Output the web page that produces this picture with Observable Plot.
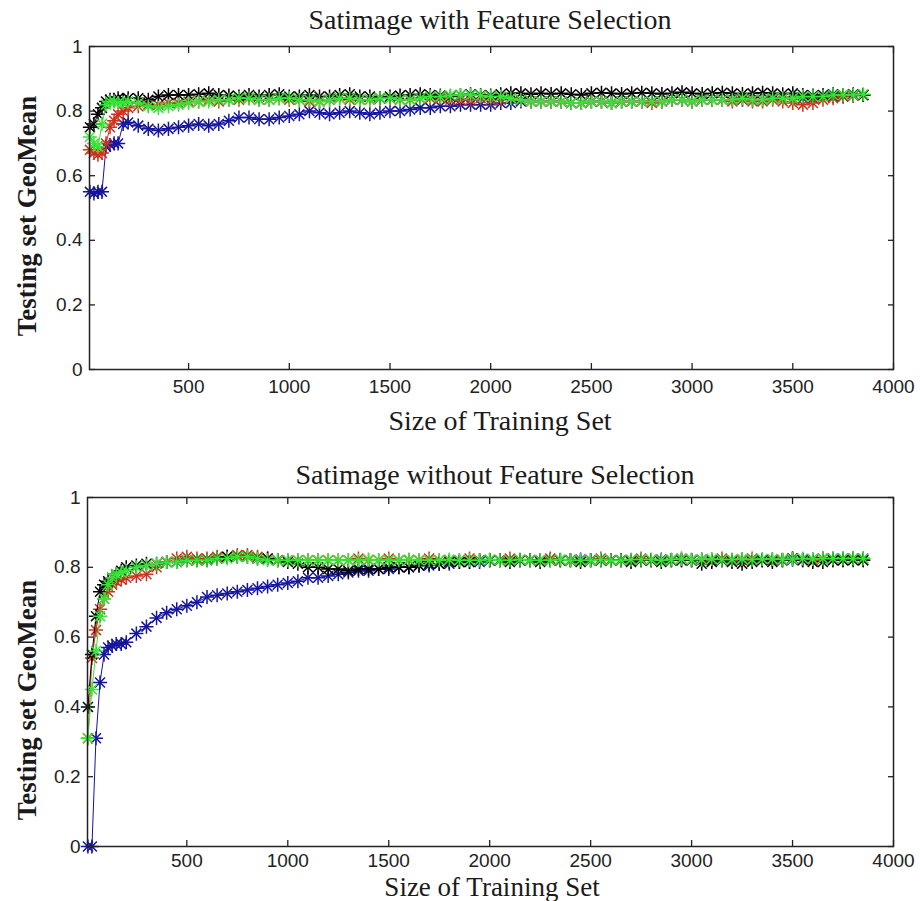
<!DOCTYPE html>
<html><head><meta charset="utf-8">
<script src="https://cdn.jsdelivr.net/npm/d3@7"></script>
<script src="https://cdn.jsdelivr.net/npm/@observablehq/plot@0.6"></script>
<style>
body{margin:0;background:#fff;}
#wrap{position:relative;width:920px;height:901px;background:#fff;overflow:hidden;}
.p{position:absolute;left:0;}
.t{position:absolute;font-family:"Liberation Serif","Times New Roman",serif;color:#1a1a1a;white-space:nowrap;line-height:1;transform:translate(-50%,-50%);}
.yl{font-weight:bold;transform:translate(-50%,-50%) rotate(-90deg);}
</style></head><body>
<div id="wrap">
  <div class="p" id="p1" style="top:0px"></div>
  <div class="p" id="p2" style="top:450px"></div>
  <div class="t" style="left:490px;top:20px;font-size:28px">Satimage with Feature Selection</div>
  <div class="t" style="left:500px;top:421px;font-size:28px">Size of Training Set</div>
  <div class="t yl" style="left:27px;top:216px;font-size:27px">Testing set GeoMean</div>
  <div class="t" style="left:495px;top:475px;font-size:28px">Satimage without Feature Selection</div>
  <div class="t" style="left:492px;top:887px;font-size:27px">Size of Training Set</div>
  <div class="t yl" style="left:27px;top:700px;font-size:27px">Testing set GeoMean</div>
</div>
<script>
const xs = [10,30,50,70,90,110,130,150,175,200,
  250,300,350,400,450,500,550,600,650,700,
  750,800,850,900,950,1000,1050,1100,1150,1200,
  1250,1300,1350,1400,1450,1500,1550,1600,1650,1700,
  1750,1800,1850,1900,1950,2000,2050,2100,2150,2200,
  2250,2300,2350,2400,2450,2500,2550,2600,2650,2700,
  2750,2800,2850,2900,2950,3000,3050,3100,3150,3200,
  3250,3300,3350,3400,3450,3500,3550,3600,3650,3700,
  3750,3800,3850];

const xTicks = [500,1000,1500,2000,2500,3000,3500,4000];
const xTickLabels = ["500","1000","1500","2000","2500","3000","3500","4000"];
const yTicks = [0,0.2,0.4,0.6,0.8,1];
const yTickLabels = ["0","0.2","0.4","0.6","0.8","1"];

const seriesNames = ["blue","red","black","green"];
const seriesColors = ["#1414a0","#d0301c","#000000","#36e636"];

// Satimage with Feature Selection
const withBlue = [0.55,0.545,0.55,0.55,0.69,0.695,0.70,0.70,0.76,0.765,
  0.755,0.745,0.74,0.745,0.75,0.755,0.76,0.755,0.76,0.77,
  0.78,0.78,0.775,0.775,0.78,0.785,0.79,0.80,0.795,0.79,
  0.795,0.80,0.795,0.79,0.795,0.80,0.80,0.805,0.81,0.81,
  0.815,0.815,0.82,0.82,0.82,0.82,0.825,0.825,0.83,0.83,
  0.83,0.83,0.83,0.825,0.825,0.83,0.83,0.825,0.83,0.83,
  0.83,0.83,0.83,0.835,0.835,0.83,0.835,0.835,0.835,0.835,
  0.835,0.835,0.835,0.84,0.84,0.84,0.84,0.84,0.845,0.845,
  0.845,0.848,0.85];
const withRed = [0.68,0.67,0.665,0.67,0.70,0.75,0.77,0.79,0.80,0.81,
  0.815,0.82,0.82,0.825,0.825,0.83,0.83,0.835,0.83,0.835,
  0.835,0.84,0.835,0.835,0.84,0.835,0.835,0.83,0.83,0.835,
  0.84,0.835,0.835,0.835,0.84,0.84,0.835,0.835,0.84,0.84,
  0.84,0.835,0.835,0.835,0.84,0.835,0.835,0.84,0.835,0.83,
  0.83,0.83,0.83,0.825,0.825,0.83,0.83,0.825,0.83,0.83,
  0.83,0.825,0.83,0.835,0.835,0.83,0.835,0.835,0.835,0.83,
  0.835,0.83,0.83,0.835,0.83,0.825,0.82,0.825,0.835,0.84,
  0.845,0.848,0.85];
const withBlack = [0.75,0.76,0.79,0.81,0.83,0.835,0.835,0.84,0.835,0.84,
  0.84,0.835,0.845,0.85,0.85,0.85,0.852,0.855,0.85,0.848,
  0.845,0.85,0.845,0.85,0.852,0.845,0.845,0.85,0.845,0.845,
  0.85,0.852,0.845,0.845,0.84,0.845,0.848,0.85,0.852,0.85,
  0.848,0.845,0.85,0.852,0.85,0.848,0.852,0.855,0.855,0.852,
  0.855,0.853,0.855,0.852,0.85,0.855,0.857,0.855,0.853,0.855,
  0.857,0.855,0.853,0.855,0.858,0.855,0.853,0.855,0.857,0.855,
  0.853,0.855,0.857,0.855,0.852,0.855,0.85,0.848,0.85,0.852,
  0.85,0.852,0.85];
const withGreen = [0.72,0.70,0.69,0.76,0.82,0.83,0.83,0.825,0.825,0.83,
  0.825,0.815,0.81,0.815,0.82,0.825,0.83,0.83,0.835,0.835,
  0.84,0.84,0.835,0.835,0.84,0.84,0.835,0.835,0.83,0.835,
  0.84,0.84,0.835,0.835,0.84,0.84,0.835,0.835,0.84,0.845,
  0.845,0.848,0.85,0.85,0.848,0.845,0.845,0.84,0.835,0.83,
  0.83,0.83,0.83,0.825,0.825,0.83,0.83,0.825,0.83,0.83,
  0.83,0.83,0.83,0.835,0.835,0.83,0.835,0.835,0.835,0.835,
  0.84,0.835,0.835,0.84,0.84,0.84,0.845,0.845,0.845,0.85,
  0.85,0.85,0.852];

// Satimage without Feature Selection
const woBlue = [0.0,0.0,0.31,0.47,0.55,0.57,0.575,0.58,0.58,0.585,
  0.61,0.63,0.655,0.67,0.68,0.69,0.70,0.715,0.72,0.725,
  0.73,0.735,0.74,0.745,0.75,0.755,0.76,0.77,0.77,0.775,
  0.78,0.785,0.79,0.79,0.795,0.795,0.80,0.80,0.805,0.805,
  0.81,0.81,0.815,0.815,0.815,0.82,0.82,0.82,0.82,0.82,
  0.82,0.82,0.82,0.82,0.822,0.82,0.82,0.82,0.82,0.82,
  0.82,0.82,0.822,0.82,0.82,0.82,0.822,0.82,0.82,0.82,
  0.822,0.82,0.82,0.822,0.82,0.822,0.822,0.822,0.825,0.825,
  0.825,0.825,0.825];
const woRed = [0.31,0.54,0.62,0.68,0.71,0.73,0.75,0.76,0.765,0.77,
  0.775,0.78,0.80,0.815,0.825,0.83,0.825,0.825,0.83,0.83,
  0.835,0.835,0.83,0.825,0.82,0.82,0.82,0.82,0.82,0.82,
  0.82,0.82,0.825,0.82,0.82,0.825,0.82,0.82,0.82,0.825,
  0.82,0.82,0.82,0.825,0.82,0.82,0.82,0.825,0.82,0.82,
  0.82,0.825,0.82,0.82,0.82,0.82,0.825,0.82,0.82,0.82,
  0.825,0.82,0.82,0.82,0.825,0.82,0.82,0.82,0.825,0.82,
  0.82,0.825,0.82,0.82,0.82,0.825,0.82,0.82,0.825,0.82,
  0.82,0.825,0.82];
const woBlack = [0.40,0.55,0.66,0.73,0.75,0.76,0.77,0.78,0.79,0.80,
  0.805,0.81,0.81,0.815,0.815,0.82,0.82,0.82,0.825,0.83,
  0.83,0.83,0.825,0.825,0.82,0.815,0.81,0.80,0.80,0.795,
  0.795,0.79,0.795,0.795,0.795,0.80,0.80,0.80,0.805,0.81,
  0.81,0.815,0.815,0.815,0.82,0.82,0.82,0.815,0.82,0.82,
  0.815,0.82,0.82,0.82,0.815,0.82,0.82,0.82,0.82,0.815,
  0.82,0.82,0.815,0.82,0.82,0.82,0.81,0.815,0.82,0.815,
  0.81,0.815,0.82,0.815,0.82,0.825,0.82,0.815,0.815,0.82,
  0.82,0.82,0.82];
const woGreen = [0.31,0.45,0.56,0.66,0.71,0.75,0.77,0.78,0.785,0.79,
  0.80,0.805,0.81,0.815,0.815,0.82,0.82,0.82,0.825,0.825,
  0.83,0.83,0.825,0.82,0.82,0.82,0.82,0.82,0.82,0.82,
  0.82,0.82,0.82,0.822,0.82,0.82,0.82,0.822,0.82,0.82,
  0.82,0.822,0.82,0.82,0.82,0.822,0.82,0.82,0.822,0.82,
  0.82,0.82,0.822,0.82,0.82,0.82,0.822,0.82,0.82,0.822,
  0.822,0.822,0.82,0.822,0.824,0.822,0.822,0.824,0.822,0.822,
  0.824,0.822,0.824,0.824,0.822,0.824,0.825,0.824,0.825,0.825,
  0.825,0.825,0.825];

function chart(seriesValues, {height, marginTop, marginBottom, marginLeft, xPad}) {
  const marks = [];
  seriesValues.forEach((vals, k) => {
    const data = xs.map((x, i) => ({x, y: vals[i], s: seriesNames[k]}));
    const c = seriesColors[k];
    marks.push(Plot.line(data, {x: "x", y: "y", stroke: c, strokeWidth: 1}));
    marks.push(Plot.dot(data, {x: "x", y: "y", symbol: "plus", r: 4.6, stroke: c, strokeWidth: 1.5}));
    marks.push(Plot.dot(data, {x: "x", y: "y", symbol: "times", r: 4.6, stroke: c, strokeWidth: 1.5}));
  });
  const fx = d => xTickLabels[xTicks.indexOf(d)];
  const fy = d => yTickLabels[yTicks.indexOf(d)];
  marks.push(Plot.frame({stroke: "#222", strokeWidth: 1.5}));
  marks.push(Plot.axisX({anchor: "bottom", ticks: xTicks, tickSize: -6, tickPadding: xPad, tickFormat: fx, fontSize: 19, label: null, strokeWidth: 1.3}));
  marks.push(Plot.axisX({anchor: "top", ticks: xTicks, tickSize: -6, tickFormat: () => "", label: null, strokeWidth: 1.3}));
  marks.push(Plot.axisY({anchor: "left", ticks: yTicks, tickSize: -6, tickPadding: 13, tickFormat: fy, fontSize: 19, label: null, strokeWidth: 1.3}));
  marks.push(Plot.axisY({anchor: "right", ticks: yTicks, tickSize: -6, tickFormat: () => "", label: null, strokeWidth: 1.3}));
  return Plot.plot({
    width: 920, height, marginTop, marginBottom, marginLeft, marginRight: 27,
    x: {domain: [8, 4000]}, y: {domain: [0, 1]},
    style: {fontFamily: "'Liberation Sans', Arial, sans-serif", color: "#222", background: "transparent"},
    marks
  });
}

document.getElementById("p1").appendChild(
  chart([withBlue, withRed, withBlack, withGreen], {height: 400, marginTop: 46, marginBottom: 31, marginLeft: 89, xPad: 16}));
document.getElementById("p2").appendChild(
  chart([woBlue, woRed, woBlack, woGreen], {height: 440, marginTop: 47, marginBottom: 44, marginLeft: 87, xPad: 13}));
</script>
</body></html>
